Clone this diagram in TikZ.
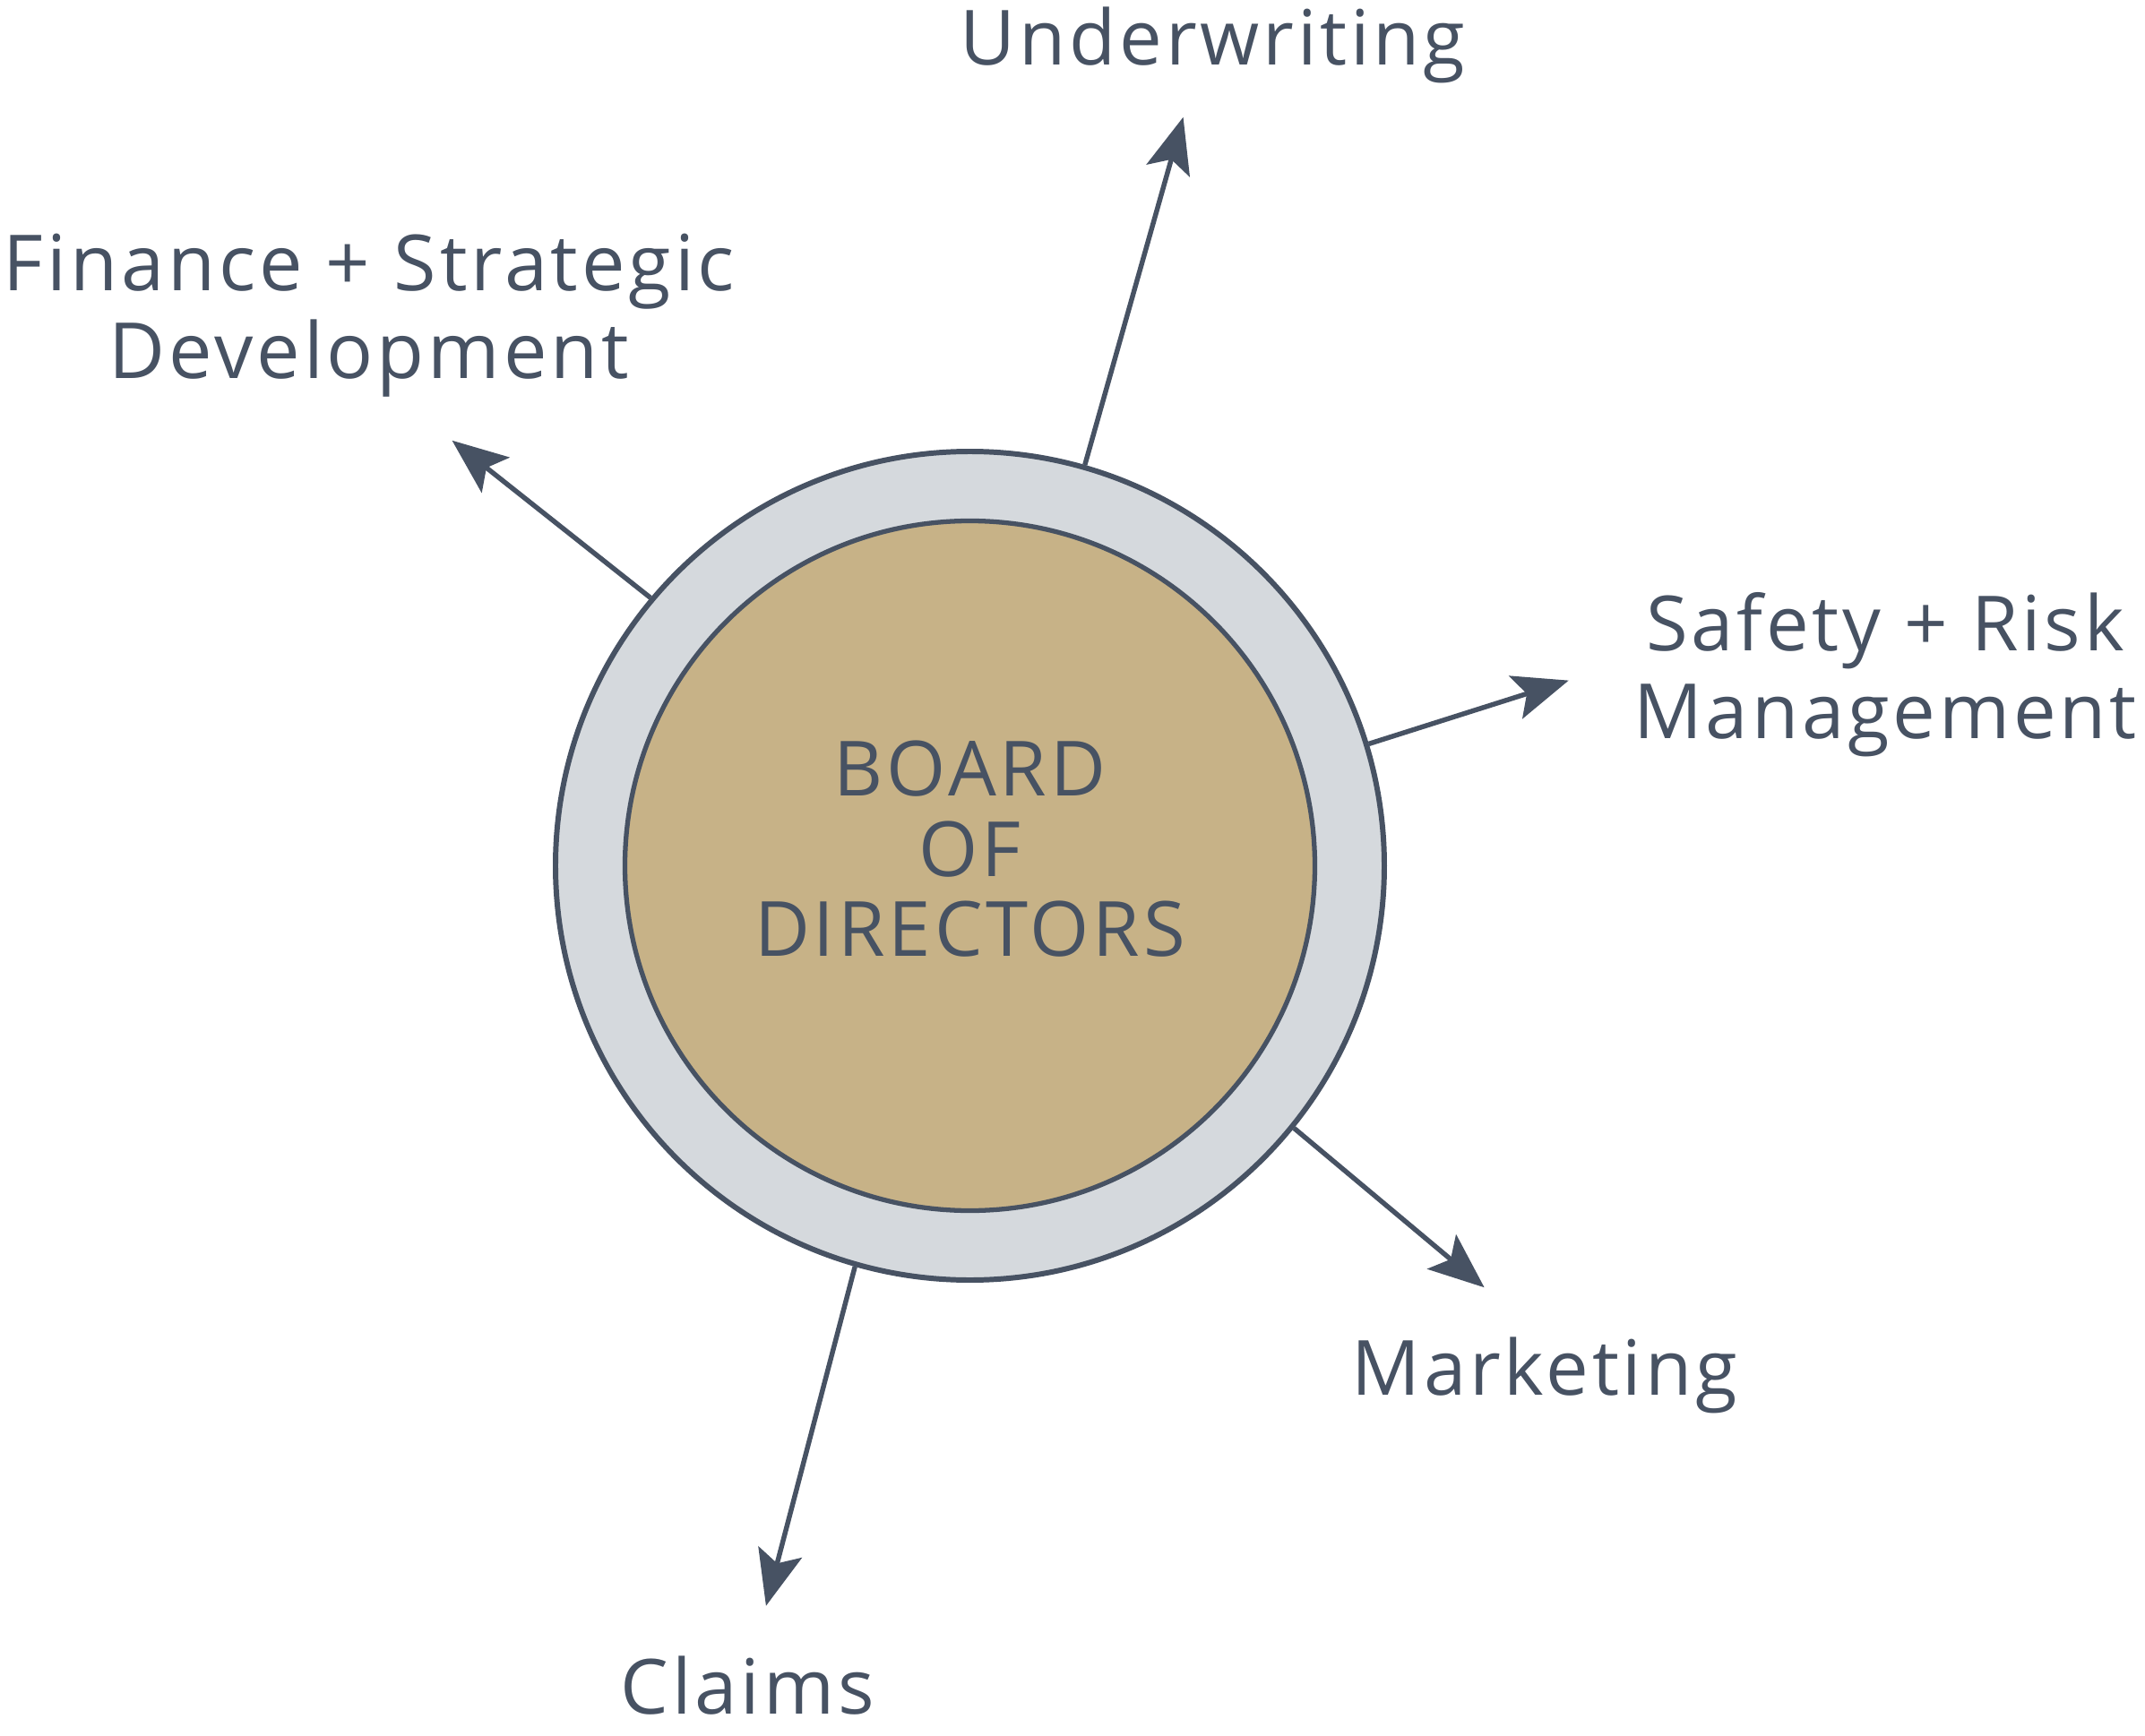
\documentclass[tikz,border=0pt]{standalone}
\usepackage{fontspec}
\setmainfont{Open Sans}[LetterSpace=4.5]
\usetikzlibrary{arrows.meta, positioning}
\usepackage{xcolor}
\definecolor{ink}{HTML}{475263}
\definecolor{ringgrey}{HTML}{D5D9DD}
\definecolor{tan}{HTML}{C7B287}

\begin{document}
\begin{tikzpicture}[
    ring/.style={
        circle,
        draw=ink,
        fill=ringgrey,
        line width=1.7pt,
        inner sep=0pt,
        minimum size=9.25cm
    },
    core/.style={
        circle,
        draw=ink,
        fill=tan,
        line width=1.5pt,
        inner sep=0pt,
        minimum size=7.7cm
    },
    label/.style={
        text=ink,
        align=center,
        anchor=base,
        font=\fontsize{24.2}{27.9}\selectfont
    },
    arrow/.style={
        draw=ink,
        line width=1.55pt,
        -{Stealth[length=0.62cm, width=0.5cm, inset=0.13cm]}
    }
]

\useasboundingbox (-10.825,-9.705) rectangle (13.115,9.665);

\node[ring] (board) at (0,0) {};
\node[core] (core) at (0,0) {};

\node[label, font=\fontsize{24.2}{25.4}\selectfont] (title) at (0,-1.008)
{BOARD\\OF\\DIRECTORS};

\node[label] (under) at (2.71,8.935) {Underwriting};
\node[label, font=\fontsize{24.6}{27.9}\selectfont] (finance) at (-6.705,5.435) {Finance + Strategic\\Development};
\node[label] (safety) at (10.215,1.42) {Safety + Risk\\Management};
\node[label] (market) at (6.413,-5.905) {Marketing};
\node[label] (claims) at (-2.481,-9.465) {Claims};

\coordinate (underTip) at (74.1:8.69);
\coordinate (financeTip) at (140.6:7.48);
\coordinate (safetyTip) at (17.2:6.996);
\coordinate (marketTip) at (-39.35:7.425);
\coordinate (claimsTip) at (254.6:8.57);

\draw[arrow] (board.74.1) -- (underTip);
\draw[arrow] (board.140.6) -- (financeTip);
\draw[arrow] (board.17.2) -- (safetyTip);
\draw[arrow] (board.-39.35) -- (marketTip);
\draw[arrow] (board.254.6) -- (claimsTip);

\end{tikzpicture}
\end{document}
